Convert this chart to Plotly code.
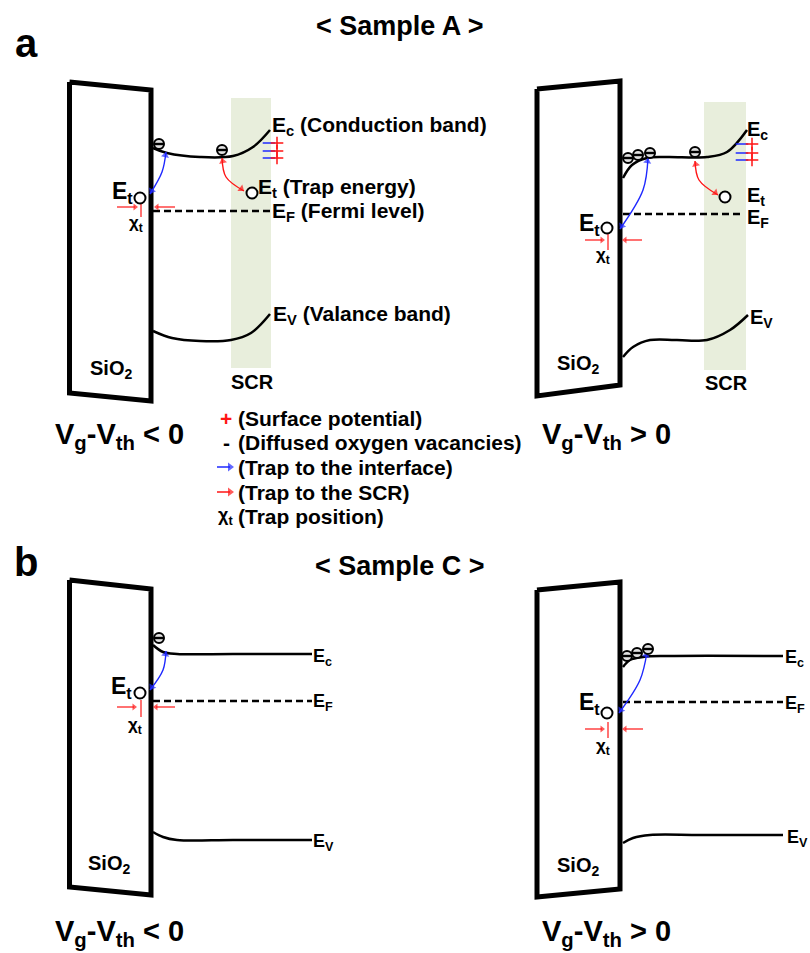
import math
import plotly.graph_objects as go

W, H = 810, 953
FONT = "Liberation Sans, Arial, sans-serif"
SCR_COLOR = "rgb(232,238,220)"
BLUE = "rgb(30,40,255)"
RED = "rgb(255,20,20)"

# ---------------- data (pixel-space schematic coordinates) ----------------
# SiO2 oxide boxes (closed outlines)
box_a1_x = [69.5, 151, 151, 69.5, 69.5]
box_a1_y = [82, 90, 401, 393, 82]
box_a2_x = [537, 620, 620, 537, 537]
box_a2_y = [89, 81, 385, 396, 89]
box_b1_x = [69.5, 151, 151, 69.5, 69.5]
box_b1_y = [580, 589, 895, 887, 580]
box_b2_x = [537, 620, 620, 537, 537]
box_b2_y = [590, 582, 889, 897, 590]

# space-charge regions
scr_a1_x = [231, 271, 271, 231, 231]
scr_a1_y = [98, 98, 368, 368, 98]
scr_a2_x = [704, 746, 746, 704, 704]
scr_a2_y = [102, 102, 370, 370, 102]

# conduction / valence bands
ec_a1_x = [153, 167, 200, 233, 253, 270]
ec_a1_y = [148, 153, 157, 156, 147, 130]
ev_a1_x = [153, 172, 200, 231, 251, 270]
ev_a1_y = [331, 338, 341, 340, 333, 314]
ec_a2_x = [623, 632, 647, 667, 707, 727, 747]
ec_a2_y = [178, 165, 158, 157, 157, 152, 130]
ev_a2_x = [623, 633, 650, 707, 730, 748]
ev_a2_y = [357, 347, 340, 340, 330, 315]
ec_b1_x = [153, 163, 177, 233, 312]
ec_b1_y = [645, 652, 654, 654, 654]
ev_b1_x = [153, 163, 177, 233, 312]
ev_b1_y = [832, 837, 840, 840, 840]
ec_b2_x = [623, 630, 643, 667, 783]
ec_b2_y = [667, 660, 657, 656, 656]
ev_b2_x = [623, 633, 650, 700, 783]
ev_b2_y = [843, 838, 835, 835, 835]

# Fermi levels (dashed)
ef_x = [[153, 270], [623, 742], [153, 312], [623, 783]]
ef_y = [[211, 211], [214, 214], [701, 701], [702, 702]]

# electrons
el_x = [159, 222, 628, 638, 650, 695, 159, 627, 637, 648]
el_y = [144, 150, 158, 155, 153, 152, 638, 656, 653, 649]

# trap states (open circles)
trap_x = [140, 252, 607, 725, 140, 607]
trap_y = [198, 193, 228, 197, 693, 713]

# curved double-headed arrows
blue_arcs_x = [[150, 162, 166], [620, 643, 648], [150, 163, 166], [619, 640, 647]]
blue_arcs_y = [[194, 172, 152], [229, 190, 158], [690, 670, 651], [713, 680, 652]]
red_arcs_x = [[222, 226, 244], [695, 699, 718]]
red_arcs_y = [[158, 177, 191], [161, 180, 195]]

# chi_t marks: [left tail, left tip, right tail, right tip, y, tick x, tick y0, tick y1]
chi_marks = [
    [117, 138, 175, 154, 207, 141, 200, 217],
    [585, 605, 642, 622, 240, 608, 233, 250],
    [117, 137, 175, 153, 707, 141, 700, 717],
    [585, 605, 643, 622, 729, 608, 722, 738],
]

# surface potential (+) / vacancies (-) marks
pm_blue_x = [269, 742]
pm_red_x = [277, 752]
pm_rows_y = [[143, 151, 158], [144, 153, 160]]

# text labels: (text, x, y, size, xanchor)
labels = [
    ("a", 14, 43, 40, "left"),
    ("b", 13, 562, 40, "left"),
    ("&lt; Sample A &gt;", 400, 26, 27, "center"),
    ("&lt; Sample C &gt;", 400, 566, 27, "center"),
    ("E<sub>c</sub> (Conduction band)", 271, 126, 21, "left"),
    ("E<sub>t</sub> (Trap energy)", 257, 188, 21, "left"),
    ("E<sub>F</sub> (Fermi level)", 271, 212, 21, "left"),
    ("E<sub>V</sub> (Valance band)", 272, 315, 21, "left"),
    ("E<sub>t</sub>", 134, 192, 23, "right"),
    ("χ<sub>t</sub>", 136, 224, 17, "center"),
    ("SiO<sub>2</sub>", 111, 369, 20, "center"),
    ("SCR", 252, 382, 20, "center"),
    ("V<sub>g</sub>-V<sub>th</sub> &lt; 0", 119, 436, 29, "center"),
    ("E<sub>c</sub>", 746, 130, 20, "left"),
    ("E<sub>t</sub>", 746, 196, 20, "left"),
    ("E<sub>F</sub>", 746, 218, 20, "left"),
    ("E<sub>V</sub>", 749, 318, 20, "left"),
    ("E<sub>t</sub>", 601, 224, 23, "right"),
    ("χ<sub>t</sub>", 603, 256, 17, "center"),
    ("SiO<sub>2</sub>", 578, 364, 20, "center"),
    ("SCR", 726, 383, 20, "center"),
    ("V<sub>g</sub>-V<sub>th</sub> &gt; 0", 606, 436, 29, "center"),
    ("E<sub>c</sub>", 312, 657, 18, "left"),
    ("E<sub>F</sub>", 312, 702, 18, "left"),
    ("E<sub>V</sub>", 312, 842, 18, "left"),
    ("E<sub>t</sub>", 133, 687, 23, "right"),
    ("χ<sub>t</sub>", 135, 726, 17, "center"),
    ("SiO<sub>2</sub>", 109, 864, 20, "center"),
    ("V<sub>g</sub>-V<sub>th</sub> &lt; 0", 119, 933, 29, "center"),
    ("E<sub>c</sub>", 784, 658, 18, "left"),
    ("E<sub>F</sub>", 784, 704, 18, "left"),
    ("E<sub>V</sub>", 786, 838, 18, "left"),
    ("E<sub>t</sub>", 601, 703, 23, "right"),
    ("χ<sub>t</sub>", 603, 747, 17, "center"),
    ("SiO<sub>2</sub>", 578, 866, 20, "center"),
    ("V<sub>g</sub>-V<sub>th</sub> &gt; 0", 606, 933, 29, "center"),
]

# legend rows
legend_text = ["(Surface potential)", "(Diffused oxygen vacancies)",
               "(Trap to the interface)", "(Trap to the SCR)", "(Trap position)"]
legend_y = [418, 442, 467, 492, 516]
legend_text_x = 237

# ---------------- figure ----------------
fig = go.Figure()


def line(xs, ys, width=2.5, color="black", dash=None, shape="linear"):
    fig.add_trace(go.Scatter(x=xs, y=ys, mode="lines", hoverinfo="skip",
                             line=dict(width=width, color=color, dash=dash,
                                       shape=shape, smoothing=1.0)))


heads = {"x": [], "y": [], "angle": [], "color": [], "size": []}


def head(tip_x, tip_y, ref_x, ref_y, color, size=7):
    # direction of travel is from ref point to tip
    dx, dy = tip_x - ref_x, tip_y - ref_y
    n = math.hypot(dx, dy) or 1.0
    ux, uy = dx / n, dy / n
    r = size / 2.0
    heads["x"].append(tip_x - r * ux)
    heads["y"].append(tip_y - r * uy)
    heads["angle"].append(math.degrees(math.atan2(ux, -uy)))
    heads["color"].append(color)
    heads["size"].append(size)


# SCR shaded regions
for xs, ys in [(scr_a1_x, scr_a1_y), (scr_a2_x, scr_a2_y)]:
    fig.add_trace(go.Scatter(x=xs, y=ys, mode="lines", fill="toself",
                             fillcolor=SCR_COLOR, line=dict(width=0),
                             hoverinfo="skip"))

# oxide boxes
for xs, ys in [(box_a1_x, box_a1_y), (box_a2_x, box_a2_y),
               (box_b1_x, box_b1_y), (box_b2_x, box_b2_y)]:
    line(xs, ys, width=5)

# bands
for xs, ys in [(ec_a1_x, ec_a1_y), (ev_a1_x, ev_a1_y), (ec_a2_x, ec_a2_y),
               (ev_a2_x, ev_a2_y), (ec_b1_x, ec_b1_y), (ev_b1_x, ev_b1_y),
               (ec_b2_x, ec_b2_y), (ev_b2_x, ev_b2_y)]:
    line(xs, ys, width=2.5, shape="spline")

for xs, ys in zip(ef_x, ef_y):
    line(xs, ys, width=2.5, dash="7px,4px")

# curved arrows
for arcs_x, arcs_y, col in [(blue_arcs_x, blue_arcs_y, BLUE), (red_arcs_x, red_arcs_y, RED)]:
    for xs, ys in zip(arcs_x, arcs_y):
        line(xs, ys, width=1.4, color=col, shape="spline")
        head(xs[0], ys[0], (xs[0] + xs[1]) / 2, (ys[0] + ys[1]) / 2, col)
        head(xs[-1], ys[-1], (xs[-1] + xs[-2]) / 2, (ys[-1] + ys[-2]) / 2, col)

# chi_t arrows and ticks
for lt, lp, rt, rp, yy, tx, t0, t1 in chi_marks:
    line([lt, lp - 3], [yy, yy], width=1.2, color=RED)
    line([rt, rp + 3], [yy, yy], width=1.2, color=RED)
    head(lp, yy, lt, yy, RED, 6)
    head(rp, yy, rt, yy, RED, 6)
    line([tx, tx], [t0, t1], width=1.2, color=RED)

# surface potential marks
for bx, rx, rows in zip(pm_blue_x, pm_red_x, pm_rows_y):
    fig.add_trace(go.Scatter(x=[bx] * len(rows), y=rows, mode="markers", hoverinfo="skip",
                             marker=dict(symbol="line-ew", size=9,
                                         line=dict(width=1.5, color=BLUE))))
    fig.add_trace(go.Scatter(x=[rx] * len(rows), y=rows, mode="markers", hoverinfo="skip",
                             marker=dict(symbol="cross-thin", size=9,
                                         line=dict(width=1.5, color=RED))))

# legend arrows
sym_x = legend_text_x - 11
for yy, col in [(legend_y[2], BLUE), (legend_y[3], RED)]:
    line([sym_x - 9, sym_x + 4], [yy, yy], width=1.5, color=col)
    head(sym_x + 8, yy, sym_x - 9, yy, col, 8)

# arrow heads
fig.add_trace(go.Scatter(x=heads["x"], y=heads["y"], mode="markers", hoverinfo="skip",
                         marker=dict(symbol="triangle-up", size=heads["size"],
                                     angle=heads["angle"], color=heads["color"],
                                     line=dict(width=0))))

# trap states
fig.add_trace(go.Scatter(x=trap_x, y=trap_y, mode="markers", hoverinfo="skip",
                         marker=dict(symbol="circle", size=11, color="white",
                                     line=dict(width=2, color="black"))))

# electrons
fig.add_trace(go.Scatter(x=el_x, y=el_y, mode="markers", hoverinfo="skip",
                         marker=dict(symbol="circle", size=10, color="rgb(225,225,225)",
                                     line=dict(width=2, color="black"))))
fig.add_trace(go.Scatter(x=el_x, y=el_y, mode="markers", hoverinfo="skip",
                         marker=dict(symbol="line-ew", size=7,
                                     line=dict(width=2.4, color="black"))))


def text_at(x, y, s, size, xanchor="left", color="black"):
    fig.add_annotation(x=x, y=y, xref="x", yref="y", text=f"<b>{s}</b>",
                       showarrow=False, xanchor=xanchor, yanchor="middle",
                       borderpad=0, font=dict(family=FONT, size=size, color=color))


# text labels
for text, x, y, size, xa in labels:
    text_at(x, y, text, size, xa)

# legend
text_at(sym_x, legend_y[0], "+", 21, "center", RED)
text_at(sym_x, legend_y[1], "-", 21, "center")
text_at(sym_x - 1, legend_y[4], "χ<sub>t</sub>", 18, "center")
for t, yy in zip(legend_text, legend_y):
    text_at(legend_text_x, yy, t, 21)

fig.update_layout(width=W, height=H, margin=dict(l=0, r=0, t=0, b=0),
                  paper_bgcolor="white", plot_bgcolor="white", showlegend=False,
                  xaxis=dict(range=[0, W], visible=False, fixedrange=True),
                  yaxis=dict(range=[H, 0], visible=False, fixedrange=True))

fig.write_html("out.html", config={"displayModeBar": False})
